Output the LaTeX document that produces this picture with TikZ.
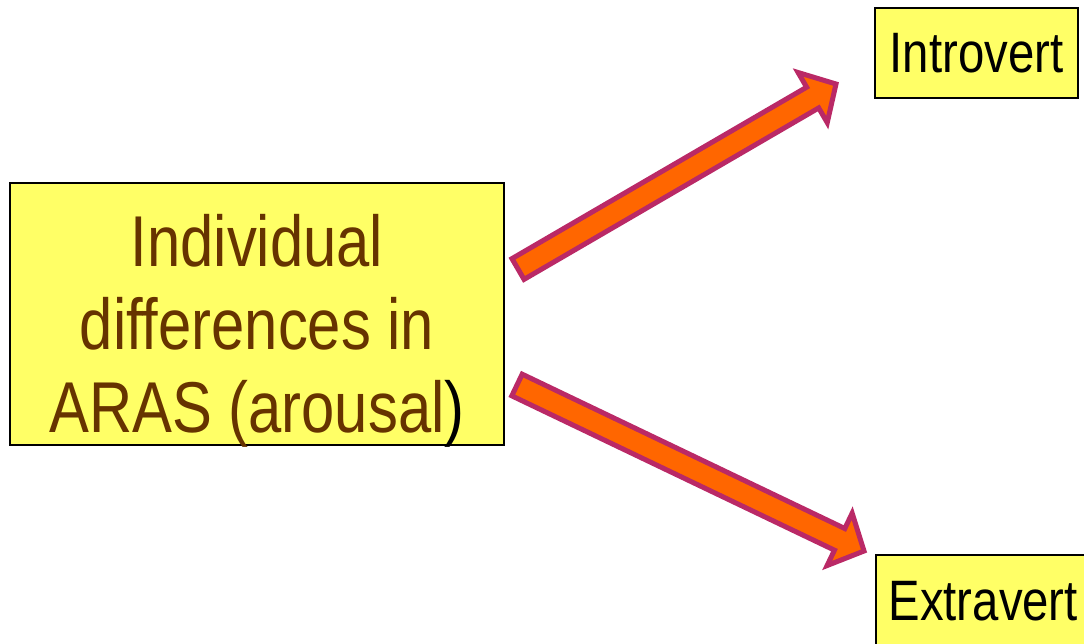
\documentclass[tikz,border=0pt]{standalone}
\usepackage{fontspec}
\setmainfont{Liberation Sans}[FakeStretch=0.83]
\usetikzlibrary{calc}
\definecolor{boxyellow}{RGB}{255,255,102}
\definecolor{txtbrown}{RGB}{102,51,0}
\definecolor{arrowfill}{RGB}{255,102,0}
\definecolor{arrowline}{RGB}{186,41,102}
\tikzset{
  box/.style={draw=black,fill=boxyellow,line width=1.5pt,inner sep=0pt},
  fatarrow/.style={draw=arrowline,fill=arrowfill,line width=5pt,line join=miter},
}
% block arrow from #1 (tail) to #2 (tip)
\newcommand\blockarrow[2]{%
  \coordinate (neck) at ($(#2)!27pt!(#1)$);
  \draw[fatarrow] ($(#1)!12pt!90:(#2)$) -- ($(neck)!12pt!90:(#2)$)
    -- ($(neck)!29pt!90:(#2)$) -- (#2) -- ($(neck)!29pt!-90:(#2)$)
    -- ($(neck)!12pt!-90:(#2)$) -- ($(#1)!12pt!-90:(#2)$) -- cycle;}
\begin{document}
\begin{tikzpicture}[x=1pt,y=-1pt,line width=1.5pt,every node/.style={inner sep=0pt}]
\useasboundingbox (0,0) rectangle (1084,643);
\node[box,minimum width=494pt,minimum height=262pt,align=center,text=txtbrown,
  font=\fontsize{72}{83}\selectfont,text height=249pt,text depth=13pt] (aras) at (257,314)
  {Individual\\differences in\\ARAS (arousal\textcolor{black}{)}};
\node[box,minimum width=203pt,minimum height=90pt,font=\fontsize{57}{60}\selectfont] (intro) at (976.5,53) {Introvert};
\node[box,anchor=north west,minimum width=215pt,minimum height=92pt,font=\fontsize{57}{60}\selectfont] (extra) at (875,554) {Extravert};
\coordinate (introtail) at (518,269);
\coordinate (introtip) at (836,84);
\coordinate (extratail) at (517,385);
\coordinate (extratip) at (864,551);
\blockarrow{introtail}{introtip}
\blockarrow{extratail}{extratip}
\end{tikzpicture}
\end{document}
